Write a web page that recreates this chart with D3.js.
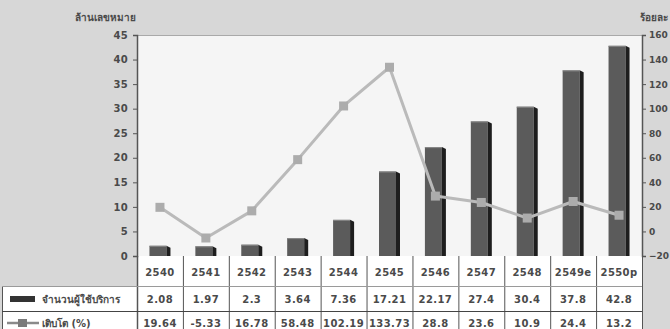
<!DOCTYPE html>
<html>
<head>
<meta charset="utf-8">
<script src="https://cdn.jsdelivr.net/npm/d3@7/dist/d3.min.js"></script>
<style>
  html, body { margin: 0; padding: 0; background: #d7d7d7; }
  svg { display: block; }
  text { font-family: "DejaVu Sans", "Noto Sans", sans-serif; fill: #4a4a4a; }
</style>
</head>
<body>
<svg id="chart" width="670" height="329"></svg>
<script>
// Subscriber numbers (million lines) and yearly growth (%)
const years = ["2540", "2541", "2542", "2543", "2544", "2545", "2546", "2547", "2548", "2549e", "2550p"];
const subscribers = [2.08, 1.97, 2.3, 3.64, 7.36, 17.21, 22.17, 27.4, 30.4, 37.8, 42.8];
const growth = [19.64, -5.33, 16.78, 58.48, 102.19, 133.73, 28.8, 23.6, 10.9, 24.4, 13.2];
const leftTicks = [0, 5, 10, 15, 20, 25, 30, 35, 40, 45];
const rightTicks = [-20, 0, 20, 40, 60, 80, 100, 120, 140, 160];
const leftTitle = "ล้านเลขหมาย";
const rightTitle = "ร้อยละ";
const seriesNames = ["จำนวนผู้ใช้บริการ", "เติบโต (%)"];

const svg = d3.select("#chart");
const plotL = 137, plotR = 642, plotT = 35, plotB = 256;
const row1 = 286, row2 = 311, tableB = 340;

const x = d3.scaleBand().domain(years).range([plotL, plotR]).padding(0);
const yL = d3.scaleLinear().domain([0, 45]).range([plotB, plotT]);
const yR = d3.scaleLinear().domain([-20, 160]).range([plotB, plotT]);

// plot background
svg.append("rect").attr("x", plotL).attr("y", plotT)
  .attr("width", plotR - plotL).attr("height", plotB - plotT).attr("fill", "#f5f5f5");
svg.append("line").attr("x1", plotL).attr("x2", plotR).attr("y1", plotT + 0.5).attr("y2", plotT + 0.5)
  .attr("stroke", "#a9a9a9");

// data table background
svg.append("rect").attr("x", plotL).attr("y", plotB).attr("width", plotR - plotL).attr("height", tableB - plotB)
  .attr("fill", "#ffffff");
svg.append("rect").attr("x", 2).attr("y", row1).attr("width", plotL - 2).attr("height", tableB - row1)
  .attr("fill", "#ffffff");

// bars with a dark side face
const bw = 17, side = 4;
const bars = svg.append("g");
years.forEach((yr, i) => {
  const cx = x(yr) + x.bandwidth() / 2;
  const x0 = cx - (bw + side) / 2;
  const top = yL(subscribers[i]);
  bars.append("rect").attr("x", x0).attr("y", top).attr("width", bw).attr("height", plotB - top)
    .attr("fill", "#5b5b5b");
  bars.append("path")
    .attr("d", `M${x0 + bw},${top} L${x0 + bw + side},${top + 2} L${x0 + bw + side},${plotB} L${x0 + bw},${plotB} Z`)
    .attr("fill", "#1e1e1e");
  bars.append("line").attr("x1", x0).attr("x2", x0 + bw).attr("y1", top + 0.5).attr("y2", top + 0.5)
    .attr("stroke", "#8a8a8a");
});

// growth line
const line = d3.line().x((d, i) => x(years[i]) + x.bandwidth() / 2).y(d => yR(d));
svg.append("path").datum(growth).attr("d", line)
  .attr("fill", "none").attr("stroke", "#bababa").attr("stroke-width", 3).attr("stroke-linejoin", "round");
svg.append("g").selectAll("rect").data(growth).join("rect")
  .attr("x", (d, i) => x(years[i]) + x.bandwidth() / 2 - 4.5)
  .attr("y", d => yR(d) - 4.5)
  .attr("width", 9).attr("height", 9).attr("fill", "#acacac");

// axes
const axL = svg.append("g").attr("transform", `translate(${plotL},0)`)
  .call(d3.axisLeft(yL).tickValues(leftTicks).tickSize(4).tickPadding(5));
const axR = svg.append("g").attr("transform", `translate(${plotR},0)`)
  .call(d3.axisRight(yR).tickValues(rightTicks).tickSize(4).tickPadding(3));
[axL, axR].forEach(ax => {
  ax.select(".domain").attr("stroke", "#555").attr("stroke-width", 1.5);
  ax.selectAll(".tick line").attr("stroke", "#555");
  ax.selectAll(".tick text").style("font-weight", "bold").attr("fill", "#4a4a4a");
});
axL.selectAll(".tick text").style("font-size", "10px").style("letter-spacing", "0.3px");
axR.selectAll(".tick text").style("font-size", "9px");

// axis titles
svg.append("text").attr("x", 105).attr("y", 21).attr("text-anchor", "middle")
  .style("font-size", "10px").style("font-weight", "bold").text(leftTitle);
svg.append("text").attr("x", 668).attr("y", 21).attr("text-anchor", "end")
  .style("font-size", "10px").style("font-weight", "bold").text(rightTitle);

// table grid
const grid = svg.append("g").attr("stroke", "#555");
x.domain().forEach(yr => {
  grid.append("line").attr("x1", x(yr) + x.bandwidth() + 0.5).attr("x2", x(yr) + x.bandwidth() + 0.5)
    .attr("y1", plotB).attr("y2", tableB);
});
grid.append("line").attr("x1", plotL + 0.5).attr("x2", plotL + 0.5).attr("y1", plotB).attr("y2", tableB)
  .attr("stroke-width", 1.5);
grid.append("line").attr("x1", 2.5).attr("x2", 2.5).attr("y1", row1).attr("y2", tableB);
grid.append("line").attr("x1", 2).attr("x2", plotR).attr("y1", row1 + 0.5).attr("y2", row1 + 0.5)
  .attr("stroke", "#9a9a9a");
grid.append("line").attr("x1", 2).attr("x2", plotR).attr("y1", row2 + 0.5).attr("y2", row2 + 0.5)
  .attr("stroke", "#444");

// table text
const cellText = (txt, cx, cy) => svg.append("text").attr("x", cx).attr("y", cy)
  .attr("text-anchor", "middle").attr("dominant-baseline", "central")
  .style("font-size", "10px").style("font-weight", "bold").style("letter-spacing", "0.4px").text(txt);
years.forEach((yr, i) => {
  const cx = x(yr) + x.bandwidth() / 2;
  cellText(yr, cx, 272);
  cellText(String(subscribers[i]), cx, 299);
  cellText(String(growth[i]), cx, 323);
});

// legend cells
svg.append("rect").attr("x", 10).attr("y", 296).attr("width", 25).attr("height", 6).attr("fill", "#333");
svg.append("text").attr("x", 42).attr("y", 299).attr("dominant-baseline", "central")
  .style("font-size", "10px").style("font-weight", "bold").text(seriesNames[0]);
svg.append("line").attr("x1", 7).attr("x2", 39).attr("y1", 323).attr("y2", 323)
  .attr("stroke", "#8a8a8a").attr("stroke-width", 2.5);
svg.append("rect").attr("x", 18).attr("y", 319).attr("width", 9).attr("height", 8).attr("fill", "#7a7a7a");
svg.append("text").attr("x", 42).attr("y", 323).attr("dominant-baseline", "central")
  .style("font-size", "10px").style("font-weight", "bold").text(seriesNames[1]);
</script>
</body>
</html>
